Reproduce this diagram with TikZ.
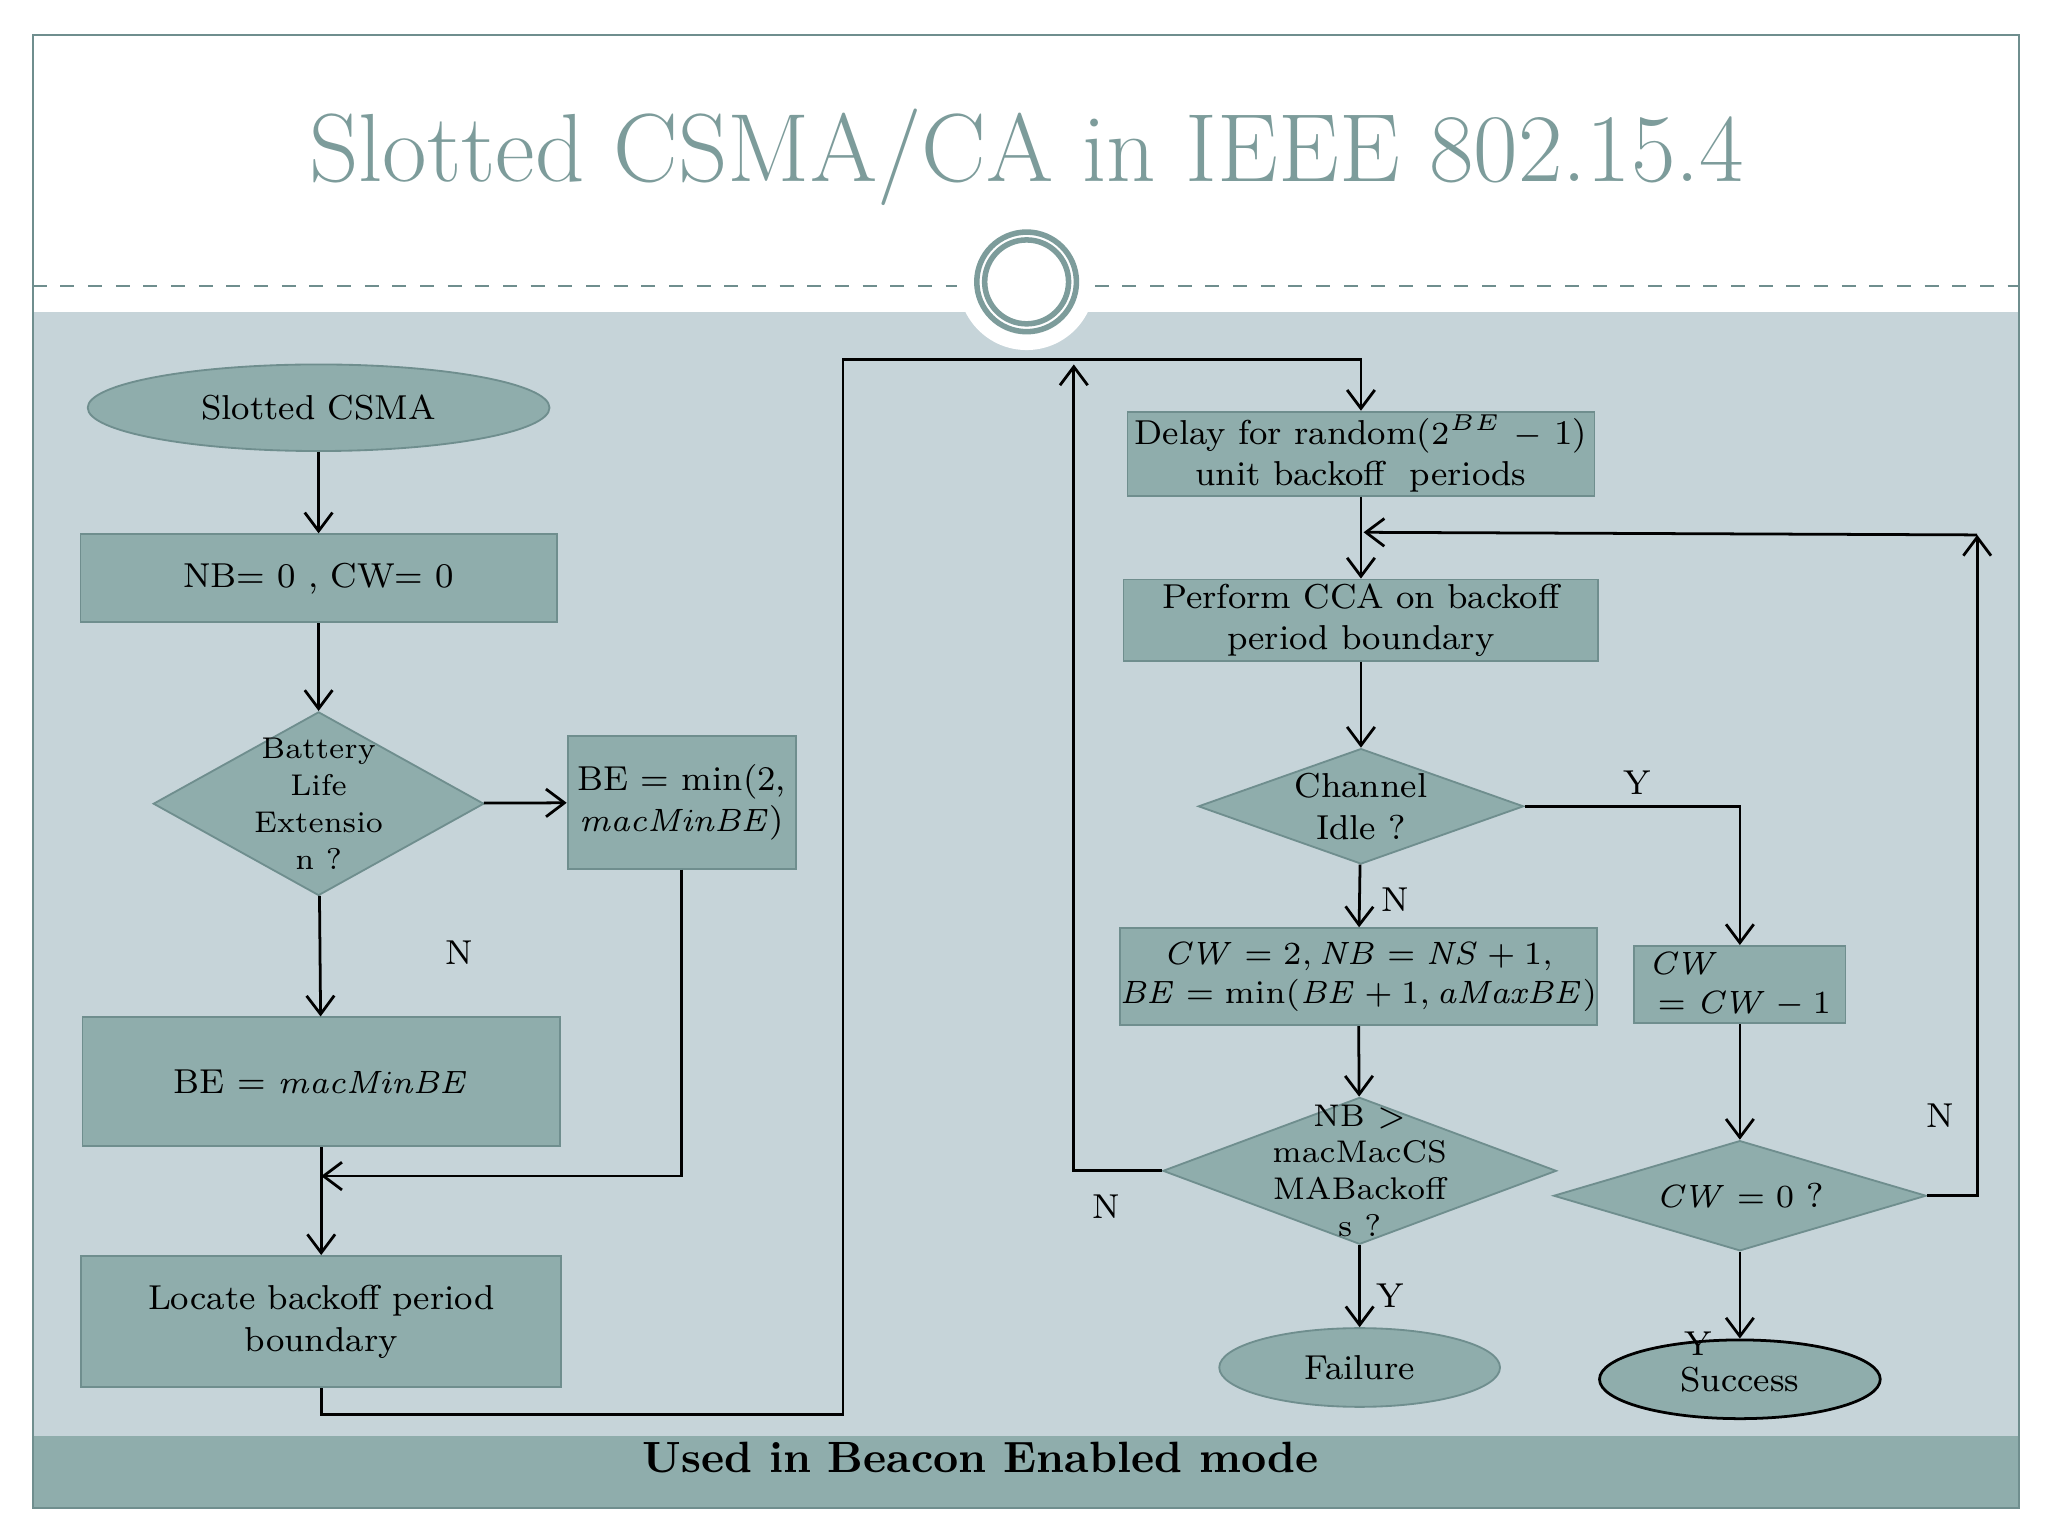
\documentclass[tikz,border=0pt]{standalone}
\usetikzlibrary{shapes.geometric,arrows.meta}
\definecolor{panel}{HTML}{C6D4D9}
\definecolor{boxf}{HTML}{8FADAC}
\definecolor{boxd}{HTML}{6F8E8E}
\definecolor{titlec}{HTML}{7D9C9B}
\begin{document}
\begin{tikzpicture}[x=0.01cm,y=-0.01cm,
  txt/.style={font=\fontsize{7.5}{9}\selectfont,align=center},
  box/.style={txt,draw=boxd,fill=boxf,inner sep=0pt},
  dia/.style={diamond,draw=boxd,fill=boxf,inner sep=0pt},
  ell/.style={txt,ellipse,draw=boxd,fill=boxf,inner sep=0pt},
  arr/.style={-{Straight Barb[length=4pt,width=6pt]},semithick},
  lab/.style={font=\fontsize{7.5}{9}\selectfont}]
\useasboundingbox (0,0) rectangle (1562,1171);
\fill[white] (0,0) rectangle (1562,1171);
% panel and frame
\fill[panel] (25,238) rectangle (1540,1095);
\fill[boxf] (25,1095) rectangle (1540,1150);
\draw[boxd,dashed] (25,218) -- (730,218) (835,218) -- (1540,218);
\fill[white] (783,215) circle (52);
\draw[titlec,line width=1.2pt] (783,215) circle (38);
\draw[titlec,line width=1.2pt] (783,215) circle (32);
\draw[boxd,thin] (25,27) rectangle (1540,1150);
\node[titlec,font=\fontsize{21}{24}\selectfont] (title) at (783,120) {Slotted CSMA/CA in IEEE 802.15.4};
\node[font=\bfseries\fontsize{9.5}{11}\selectfont] (foot) at (748,1112) {Used in Beacon Enabled mode};
% left column
\node[ell,minimum width=3.52cm,minimum height=0.66cm] (start) at (243,311) {Slotted CSMA};
\node[box,minimum width=3.63cm,minimum height=0.67cm] (nb) at (243,441) {NB= 0 , CW= 0};
\node[dia,minimum width=2.52cm,minimum height=1.40cm,aspect=1.8] (bat) at (243,613) {};
\node[txt,font=\fontsize{6.5}{8}\selectfont] (batt) at (bat) {Battery\\Life\\Extensio\\n ?};
\node[box,minimum width=1.74cm,minimum height=1.01cm] (bemin) at (520,612) {BE = min(2,\\$\mathit{macMinBE}$)};
\node[box,minimum width=3.64cm,minimum height=0.98cm] (bemac) at (245,825) {BE = $\mathit{macMinBE}$};
\node[box,minimum width=3.66cm,minimum height=1.00cm] (loc) at (245,1008) {Locate backoff period\\boundary};
% right column
\node[box,minimum width=3.56cm,minimum height=0.64cm] (delay) at (1038,346) {Delay for random($2^{BE}$ $-$ 1)\\unit backoff \ periods};
\node[box,minimum width=3.62cm,minimum height=0.62cm] (cca) at (1038,473) {Perform CCA on backoff\\period boundary};
\node[dia,minimum width=2.48cm,minimum height=0.88cm,aspect=2.8] (idle) at (1038,615) {};
\node[txt] (idlet) at (idle) {Channel\\Idle ?};
\node[box,minimum width=3.57cm,minimum height=0.74cm,font=\fontsize{7}{8.5}\selectfont] (cw2) at (1036,745) {$\mathit{CW}=2, \mathit{NB}=\mathit{NS}+1,$\\$\mathit{BE}=\min(\mathit{BE}+1,\mathit{aMaxBE})$};
\node[box,minimum width=1.61cm,minimum height=0.59cm,align=left,font=\fontsize{7}{8.5}\selectfont] (cwm) at (1327,751) {$\mathit{CW}$\\\;$=\mathit{CW}-1$};
\node[dia,minimum width=3.00cm,minimum height=1.12cm,aspect=2.7] (nbq) at (1037,893) {};
\node[txt,font=\fontsize{6.8}{8}\selectfont] (nbqt) at (nbq) {NB $>$\\macMacCS\\MABackoff\\s ?};
\node[dia,minimum width=2.84cm,minimum height=0.84cm,aspect=3.4] (cw0) at (1327,912) {};
\node[txt] (cw0t) at (cw0) {$\mathit{CW}=0$ ?};
\node[ell,minimum width=2.14cm,minimum height=0.60cm] (fail) at (1037,1043) {Failure};
\node[ell,draw=black,semithick,minimum width=2.14cm,minimum height=0.60cm] (succ) at (1327,1052) {Success};
% coordinates
\coordinate (j1) at (245,897);
\coordinate (t1) at (643,274);
\coordinate (t2) at (1038,274);
\coordinate (r1) at (1508,408);
\coordinate (r2) at (1040,406);
% connectors
\draw[arr] (start) -- (nb);
\draw[arr] (nb) -- (bat);
\draw[arr] (bat) -- (bemin);
\draw[arr] (bat) -- (bemac);
\node[lab] (ln1) at (350,727) {N};
\draw[arr] (bemin.south) |- (j1);
\draw[arr] (bemac) -- (loc);
\draw[arr] (loc.south) -- ++(0,20) -| (t1) -- (t2) -- (delay.north);
\draw[arr] (delay) -- (cca);
\draw[arr] (cca) -- (idle);
\draw[arr] (idle) -- (cw2);
\node[lab] (ln2) at (1064,686) {N};
\draw[arr] (idle.east) -| (cwm.north);
\node[lab] (ly1) at (1249,597) {Y};
\draw[arr] (cw2) -- (nbq);
\draw[arr] (nbq.west) -| (819,278);
\node[lab] (ln3) at (844,920) {N};
\draw[arr] (nbq) -- (fail);
\node[lab] (ly2) at (1060,988) {Y};
\draw[arr] (cwm) -- (cw0);
\draw[arr] (cw0) -- (succ);
\node[lab] (ly3) at (1295,1025) {Y};
\draw[arr] (cw0.east) -| (r1);
\draw[arr] (r1) -- (r2);
\node[lab] (ln4) at (1480,851) {N};
\end{tikzpicture}
\end{document}
